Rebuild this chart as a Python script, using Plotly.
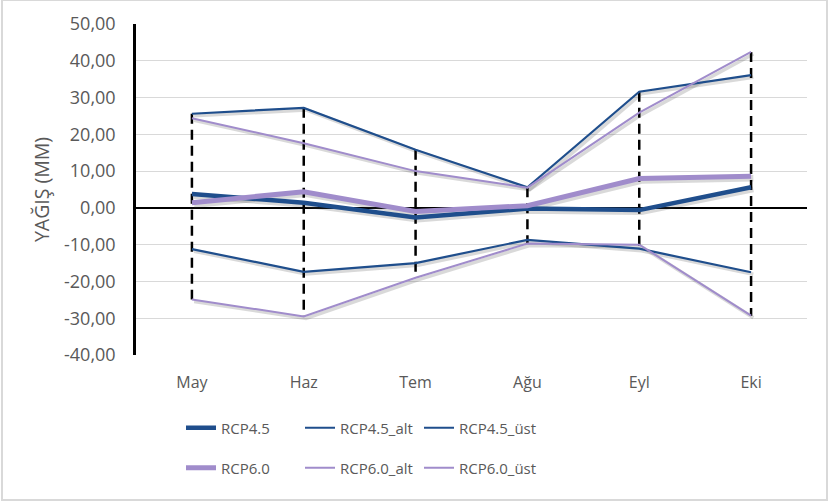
import numpy as np
import plotly.graph_objects as go

# Monthly precipitation change (mm) under two RCP scenarios with lower/upper bounds
months = ["May", "Haz", "Tem", "Ağu", "Eyl", "Eki"]
rcp45 = [3.8, 1.4, -2.6, -0.2, -0.6, 5.6]
rcp45_alt = [-11.2, -17.4, -15.0, -8.7, -11.1, -17.5]
rcp45_ust = [25.6, 27.2, 15.8, 5.6, 31.6, 36.1]
rcp60 = [1.4, 4.4, -1.0, 0.6, 8.0, 8.6]
rcp60_alt = [-24.9, -29.5, -19.0, -9.7, -10.0, -29.3]
rcp60_ust = [24.4, 17.6, 10.0, 5.5, 25.9, 42.4]

y_ticks = [-40, -30, -20, -10, 0, 10, 20, 30, 40, 50]
y_ticktext = [f"{v:.2f}".replace(".", ",") for v in y_ticks]

BLUE = "#1f4e8c"
PURPLE = "#a08ccb"
TEXT = "#595959"
GRID = "#d9d9d9"
FONT = "Open Sans"

W, H = 828, 502
ML, MR, MT, MB = 136, 21, 24, 147
PW, PH = W - ML - MR, H - MT - MB

xpos = np.arange(len(months), dtype=float)

series = [
    # name, values, color, width, legend
    ("RCP4.5", rcp45, BLUE, 4.5, "legend"),
    ("RCP4.5_alt", rcp45_alt, BLUE, 2.2, "legend"),
    ("RCP4.5_üst", rcp45_ust, BLUE, 2.2, "legend"),
    ("RCP6.0", rcp60, PURPLE, 5, "legend2"),
    ("RCP6.0_alt", rcp60_alt, PURPLE, 2, "legend2"),
    ("RCP6.0_üst", rcp60_ust, PURPLE, 2, "legend2"),
]

fig = go.Figure()

# soft drop shadows under each line
for name, vals, color, width, _ in series:
    fig.add_trace(go.Scatter(
        x=xpos + 0.02, y=np.array(vals) - 0.55, mode="lines",
        line=dict(color="rgba(80,80,80,0.22)", width=width + 1.5),
        hoverinfo="skip", showlegend=False,
    ))

# high-low lines spanning all series at each month
allvals = np.array([s[1] for s in series])
hi = allvals.max(axis=0)
lo = allvals.min(axis=0)
hx, hy = [], []
for x, a, b in zip(xpos, hi, lo):
    hx += [x, x, None]
    hy += [a, b, None]
fig.add_trace(go.Scatter(
    x=hx, y=hy, mode="lines",
    line=dict(color="black", width=2.5, dash="10px,6px"),
    hoverinfo="skip", showlegend=False,
))

for name, vals, color, width, leg in series:
    fig.add_trace(go.Scatter(
        x=xpos, y=vals, mode="lines", name=name,
        line=dict(color=color, width=width), legend=leg,
    ))

legend_common = dict(
    orientation="h", xanchor="left", yanchor="middle",
    x=(181 - ML) / PW,
    font=dict(family=FONT, size=15, color=TEXT),
    entrywidth=74, entrywidthmode="pixels",
    bgcolor="rgba(0,0,0,0)", traceorder="normal",
)

fig.update_layout(
    width=W, height=H,
    margin=dict(l=ML, r=MR, t=MT, b=MB),
    paper_bgcolor="white", plot_bgcolor="white",
    showlegend=True,
    legend=dict(legend_common, y=(MT + PH - 428) / PH),
    legend2=dict(legend_common, y=(MT + PH - 468) / PH),
    xaxis=dict(
        range=[-0.5, len(months) - 0.5],
        tickmode="array", tickvals=xpos, ticktext=months,
        showgrid=False, zeroline=False, showline=False, ticks="",
        tickfont=dict(family=FONT, size=16, color=TEXT),
        ticklabelstandoff=16,
    ),
    yaxis=dict(
        range=[-40, 50], tickmode="array", tickvals=y_ticks, ticktext=y_ticktext,
        showgrid=True, gridcolor=GRID, gridwidth=1.3,
        zeroline=True, zerolinecolor="black", zerolinewidth=2,
        showline=True, linecolor="black", linewidth=2.5,
        ticks="", ticklabelstandoff=14,
        tickfont=dict(family=FONT, size=18, color=TEXT),
        title=dict(text="YAĞIŞ (MM)", font=dict(family=FONT, size=19.5, color=TEXT), standoff=10),
    ),
    shapes=[dict(
        type="rect", xref="paper", yref="paper",
        x0=(2 - ML) / PW, x1=(827 - ML) / PW,
        y0=-(H - 2 - MT - PH) / PH, y1=(PH + MT) / PH,
        line=dict(color=GRID, width=2), fillcolor="rgba(0,0,0,0)", layer="below",
    )],
)

fig.write_html("out.html")
